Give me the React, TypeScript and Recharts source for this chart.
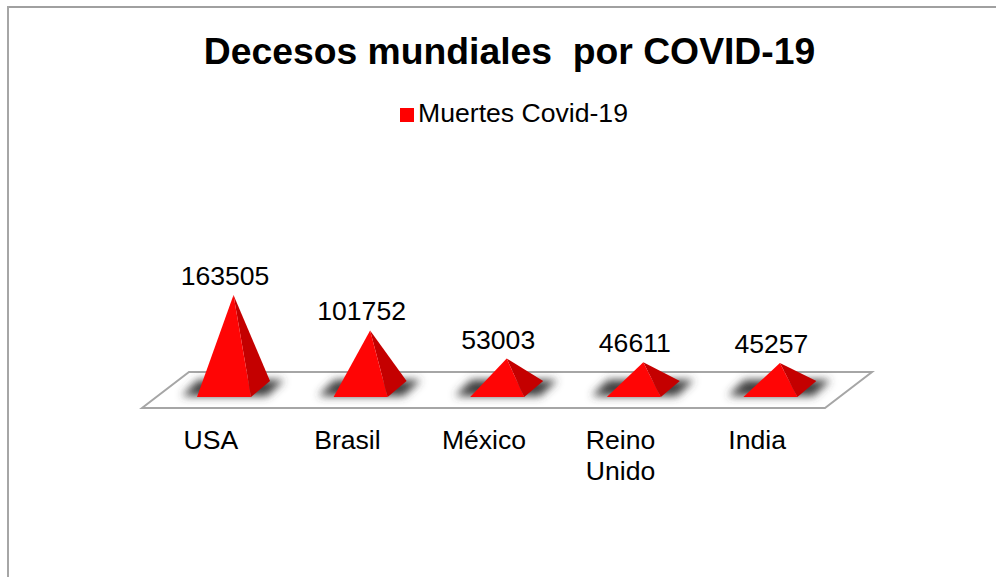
import { BarChart, Bar, XAxis, YAxis, Legend, LabelList, usePlotArea } from "recharts";

const categories = ["USA", "Brasil", "México", "Reino Unido", "India"];
const deaths = [163505, 101752, 53003, 46611, 45257];
const seriesName = "Muertes Covid-19";
const chartTitle = "Decesos mundiales  por COVID-19";

const data = categories.map((name, i) => ({ name, deaths: deaths[i] }));

const FONT = '"Liberation Sans", Arial, sans-serif';
const TEXT_SIZE = 26.6;

// the pyramids sit a bit to the right of the band centre, like in the 3D original
const PYRAMID_SHIFT = 14;
const BACK_X = 19;
const BACK_Y = 16;

function Floor() {
  const plot = usePlotArea();
  if (!plot) return null;
  const left = plot.x;
  const right = plot.x + plot.width;
  const bottom = plot.y + plot.height;
  const points = [
    [left, bottom + 19],
    [left + 47, bottom - 17],
    [right + 47, bottom - 17],
    [right, bottom + 19],
  ];
  return (
    <polygon
      points={points.map((p) => p.join(",")).join(" ")}
      fill="#ffffff"
      stroke="#a6a6a6"
      strokeWidth={2}
    />
  );
}

const Pyramid = (props: any) => {
  const { x, y, width, height } = props;
  const left = x + PYRAMID_SHIFT;
  const right = left + width;
  const floorY = y + height;
  const frontY = floorY + BACK_Y / 2;
  const backY = floorY - BACK_Y / 2;
  const apexX = left + (width + BACK_X) / 2;
  const backX = right + BACK_X;
  const shadow = [
    [left - 15, frontY - 1],
    [right + 16, frontY - 1],
    [backX + 14, backY - 1],
    [left + 1, backY - 1],
  ];
  return (
    <g>
      <polygon
        points={shadow.map((p) => p.join(",")).join(" ")}
        fill="#3c3c3c"
        filter="url(#floorShadow)"
      />
      <polygon
        points={`${right},${frontY} ${backX},${backY} ${apexX},${y}`}
        fill="#c40000"
      />
      <polygon
        points={`${left},${frontY} ${right},${frontY} ${apexX},${y}`}
        fill="#ff0505"
      />
    </g>
  );
};

const ValueLabel = (props: any) => {
  const { x, y, width, value } = props;
  return (
    <text
      x={x + width / 2 + PYRAMID_SHIFT + 1}
      y={y - 10}
      textAnchor="middle"
      fontSize={TEXT_SIZE}
      fontFamily={FONT}
      fill="#000000"
    >
      {value}
    </text>
  );
};

const CategoryTick = (props: any) => {
  const { x, y, payload } = props;
  const words = String(payload.value).split(" ");
  return (
    <text x={x + 0.5} y={y} textAnchor="middle" fontSize={TEXT_SIZE} fontFamily={FONT} fill="#000000">
      {words.map((word, i) => (
        <tspan key={word} x={x + 0.5} dy={i === 0 ? 0 : 31}>
          {word}
        </tspan>
      ))}
    </text>
  );
};

export default function App() {
  return (
    <div style={{ position: "absolute", left: 0, top: 0, width: 996, height: 577, overflow: "hidden", background: "#fff" }}>
      <div style={{ position: "absolute", left: 7, top: 6, width: 989, height: 2, background: "#a0a0a0" }} />
      <div style={{ position: "absolute", left: 7, top: 6, width: 2, height: 571, background: "#a6a6a6" }} />
      <BarChart
        width={996}
        height={577}
        data={data}
        margin={{ top: 274, right: 171, bottom: 128, left: 142 }}
        style={{ position: "absolute", left: 0, top: 0 }}
      >
        <defs>
          <filter id="floorShadow" x="-30%" y="-100%" width="160%" height="300%">
            <feGaussianBlur stdDeviation="4" />
          </filter>
        </defs>
        <text
          x={509.5}
          y={64}
          textAnchor="middle"
          fontSize={37.3}
          fontWeight="bold"
          fontFamily={FONT}
          fill="#000000"
          style={{ whiteSpace: "pre" }}
        >
          {chartTitle}
        </text>
        <Floor />
        <XAxis
          dataKey="name"
          axisLine={false}
          tickLine={false}
          height={60}
          interval={0}
          tick={<CategoryTick />}
          tickMargin={54}
        />
        <YAxis hide domain={[0, 200000]} />
        <Legend
          verticalAlign="top"
          align="center"
          iconType="square"
          iconSize={14}
          wrapperStyle={{ top: 98, left: 21, width: 996, height: 0, fontFamily: FONT, fontSize: TEXT_SIZE }}
          formatter={(value: string) => <span style={{ color: "#000000" }}>{value}</span>}
        />
        <Bar
          dataKey="deaths"
          name={seriesName}
          fill="#ff0000"
          barSize={54}
          shape={<Pyramid />}
          isAnimationActive={false}
        >
          <LabelList dataKey="deaths" content={<ValueLabel />} />
        </Bar>
      </BarChart>
    </div>
  );
}
